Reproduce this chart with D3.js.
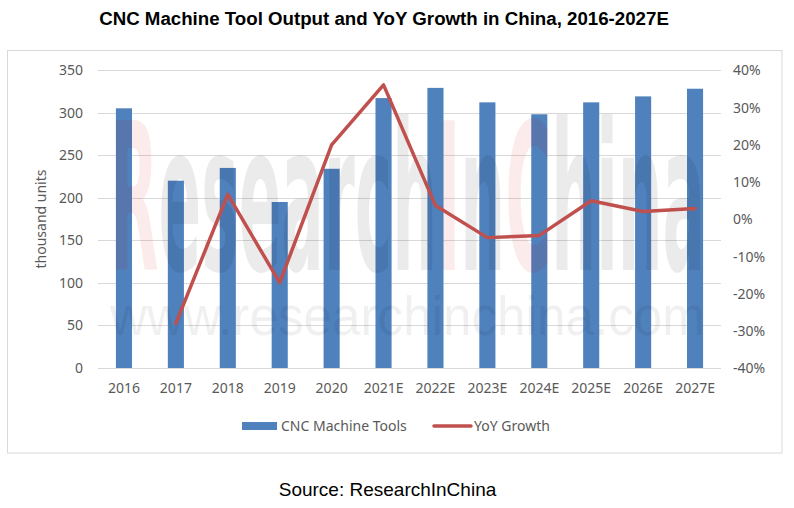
<!DOCTYPE html>
<html>
<head>
<meta charset="utf-8">
<script src="https://cdn.jsdelivr.net/npm/d3@7"></script>
<style>
body { margin: 0; background: #fff; }
svg text { font-family: "Noto Sans", sans-serif; }
</style>
</head>
<body>
<svg id="chart" width="794" height="508"></svg>
<script>
// data
var years = ["2016", "2017", "2018", "2019", "2020", "2021E", "2022E", "2023E", "2024E", "2025E", "2026E", "2027E"];
var output = [305, 220, 235, 195, 234, 317, 329, 312, 298, 312, 319, 328];
var growth = [null, -28.0, 6.6, -17.1, 19.9, 36.0, 3.6, -5.0, -4.4, 4.9, 2.0, 2.8];
var leftTicks = [0, 50, 100, 150, 200, 250, 300, 350];
var rightTicks = [-40, -30, -20, -10, 0, 10, 20, 30, 40];

var svg = d3.select("#chart");
var plot = {left: 98, right: 721, top: 70, bottom: 368};

var x = d3.scaleBand().domain(years).range([plot.left, plot.right]).paddingInner(0.69).paddingOuter(0.345);
var yL = d3.scaleLinear().domain([0, 350]).range([plot.bottom, plot.top]);
var yR = d3.scaleLinear().domain([-40, 40]).range([plot.bottom, plot.top]);

// title
svg.append("text")
	.attr("x", 384).attr("y", 25)
	.attr("text-anchor", "middle")
	.style("font-family", "'Liberation Sans', Arial, sans-serif")
	.style("font-weight", "bold")
	.style("font-size", "18.7px")
	.attr("fill", "#000")
	.text("CNC Machine Tool Output and YoY Growth in China, 2016-2027E");

// chart box
svg.append("rect")
	.attr("x", 7.5).attr("y", 50.5).attr("width", 774.5).attr("height", 402.5)
	.attr("fill", "#fff").attr("stroke", "#d9d9d9").attr("stroke-width", 1);

// gridlines
svg.append("g").selectAll("line").data(leftTicks).enter().append("line")
	.attr("x1", plot.left).attr("x2", plot.right)
	.attr("y1", function(d){return Math.round(yL(d)) + 0.5})
	.attr("y2", function(d){return Math.round(yL(d)) + 0.5})
	.attr("stroke", "#d9d9d9").attr("stroke-width", 1);

// bars
svg.append("g").selectAll("rect").data(output).enter().append("rect")
	.attr("x", function(d,i){return x(years[i])})
	.attr("width", x.bandwidth())
	.attr("y", function(d){return yL(d)})
	.attr("height", function(d){return yL(0) - yL(d)})
	.attr("fill", "#4f81bd");

// watermark, squeezed into place with a scale transform
function squeeze(t, x0, y0, w) {
	var n = t.node().getComputedTextLength();
	t.attr("transform", "translate(" + x0 + "," + y0 + ")scale(" + (w / n) + ",1)");
}
var wm = svg.append("g").attr("pointer-events", "none");
var big = wm.append("text")
	.style("font-family", "'DejaVu Sans Condensed', 'DejaVu Sans', sans-serif")
	.style("font-weight", "bold")
	.style("font-size", "206px");
var parts = [["R", true], ["esearch", false], ["I", true], ["n", false], ["C", true], ["hina", false]];
parts.forEach(function(p){
	big.append("tspan")
		.attr("fill", p[1] ? "rgba(210,0,0,0.08)" : "rgba(0,0,0,0.08)")
		.text(p[0]);
});
squeeze(big, 110, 270, 595);
var small = wm.append("text")
	.style("font-family", "'Liberation Sans', Arial, sans-serif")
	.style("font-size", "56px")
	.attr("fill", "rgba(0,0,0,0.06)")
	.text("www.researchinchina.com");
squeeze(small, 110, 335, 595);

// growth line
var line = d3.line()
	.defined(function(d){return d !== null})
	.x(function(d,i){return x(years[i]) + x.bandwidth()/2})
	.y(function(d){return yR(d)});
svg.append("path")
	.datum(growth)
	.attr("d", line)
	.attr("fill", "none")
	.attr("stroke", "#c0504d")
	.attr("stroke-width", 3.5)
	.attr("stroke-linejoin", "round")
	.attr("stroke-linecap", "round");

// axes
var tickCol = "#595959";
var axL = svg.append("g").attr("transform", "translate(" + plot.left + ",0)")
	.call(d3.axisLeft(yL).tickValues(leftTicks).tickSize(0).tickPadding(15));
var axR = svg.append("g").attr("transform", "translate(" + plot.right + ",0)")
	.call(d3.axisRight(yR).tickValues(rightTicks).tickSize(0).tickPadding(12)
		.tickFormat(function(d){return d + "%"}));
var axB = svg.append("g").attr("transform", "translate(0," + plot.bottom + ")")
	.call(d3.axisBottom(x).tickSize(0).tickPadding(12));
[axL, axR, axB].forEach(function(a){
	a.select(".domain").remove();
	a.selectAll("text")
		.style("font-family", "'Noto Sans', sans-serif")
		.style("font-size", "14px")
		.attr("fill", tickCol);
});
axR.selectAll("text").attr("dy", "0.35em");
axB.selectAll("text").attr("dy", "0.9em");

// y axis title
svg.append("text")
	.attr("transform", "translate(46,219)rotate(-90)")
	.attr("text-anchor", "middle")
	.style("font-size", "14px")
	.attr("fill", tickCol)
	.text("thousand units");

// legend
var lg = svg.append("g");
lg.append("rect").attr("x", 242).attr("y", 422).attr("width", 35).attr("height", 8).attr("fill", "#4f81bd");
lg.append("text").attr("x", 281).attr("y", 431).style("font-size", "14px").attr("fill", tickCol).text("CNC Machine Tools");
lg.append("line").attr("x1", 434).attr("x2", 471).attr("y1", 426).attr("y2", 426)
	.attr("stroke", "#c0504d").attr("stroke-width", 3.5).attr("stroke-linecap", "round");
lg.append("text").attr("x", 474).attr("y", 431).style("font-size", "14px").attr("fill", tickCol).text("YoY Growth");

// source
svg.append("text")
	.attr("x", 387.5).attr("y", 496)
	.attr("text-anchor", "middle")
	.style("font-family", "'Liberation Sans', Arial, sans-serif")
	.style("font-size", "19px")
	.attr("fill", "#000")
	.text("Source: ResearchInChina");
</script>
</body>
</html>
